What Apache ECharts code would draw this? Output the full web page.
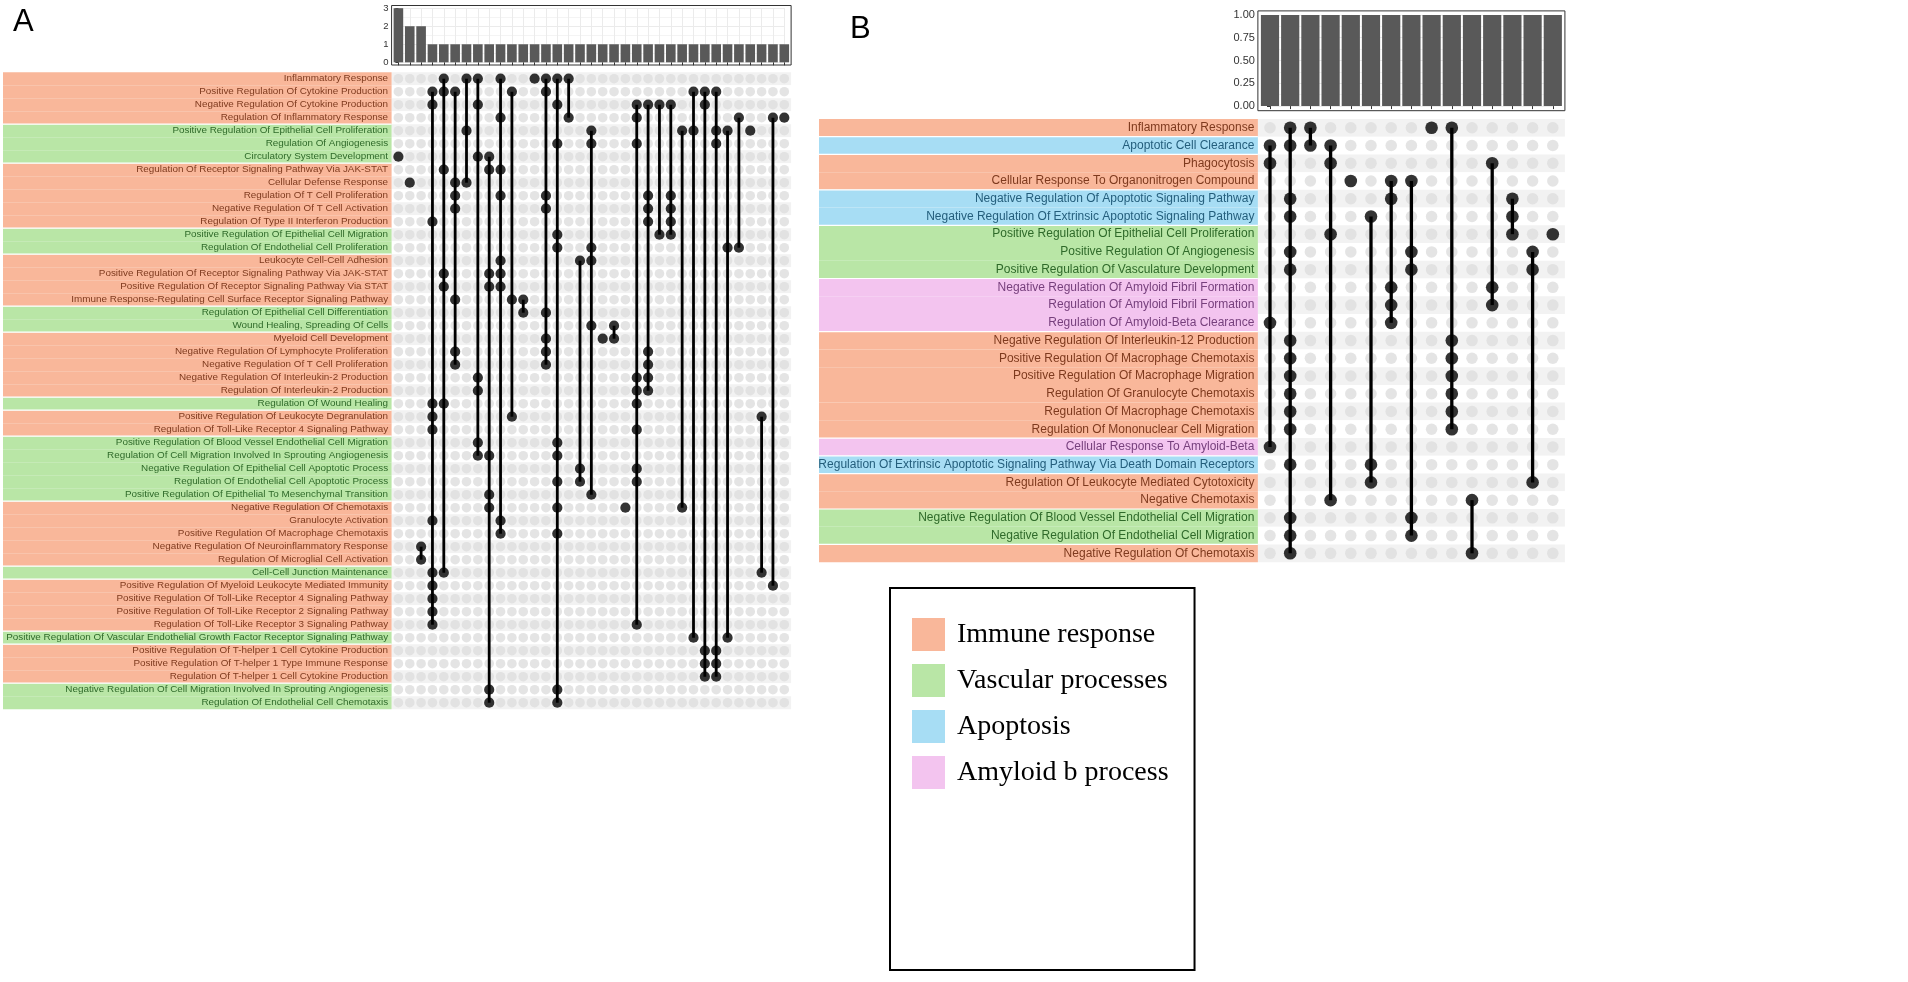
<!DOCTYPE html>
<html><head><meta charset="utf-8">
<script src="https://cdn.jsdelivr.net/npm/echarts@6/dist/echarts.min.js"></script>
<style>html,body{margin:0;padding:0;background:#fff}#c{width:1908px;height:982px}</style>
</head><body><div id="c"></div>
<script>
// ---------------- DATA ----------------
const groupKeys = ['I', 'V', 'A', 'M'];
const groupNames = ['Immune response', 'Vascular processes', 'Apoptosis', 'Amyloid b process'];

const setsA = [
 'Inflammatory Response','Positive Regulation Of Cytokine Production','Negative Regulation Of Cytokine Production',
 'Regulation Of Inflammatory Response','Positive Regulation Of Epithelial Cell Proliferation','Regulation Of Angiogenesis',
 'Circulatory System Development','Regulation Of Receptor Signaling Pathway Via JAK-STAT','Cellular Defense Response',
 'Regulation Of T Cell Proliferation','Negative Regulation Of T Cell Activation','Regulation Of Type II Interferon Production',
 'Positive Regulation Of Epithelial Cell Migration','Regulation Of Endothelial Cell Proliferation','Leukocyte Cell-Cell Adhesion',
 'Positive Regulation Of Receptor Signaling Pathway Via JAK-STAT','Positive Regulation Of Receptor Signaling Pathway Via STAT',
 'Immune Response-Regulating Cell Surface Receptor Signaling Pathway','Regulation Of Epithelial Cell Differentiation',
 'Wound Healing, Spreading Of Cells','Myeloid Cell Development','Negative Regulation Of Lymphocyte Proliferation',
 'Negative Regulation Of T Cell Proliferation','Negative Regulation Of Interleukin-2 Production','Regulation Of Interleukin-2 Production',
 'Regulation Of Wound Healing','Positive Regulation Of Leukocyte Degranulation','Regulation Of Toll-Like Receptor 4 Signaling Pathway',
 'Positive Regulation Of Blood Vessel Endothelial Cell Migration','Regulation Of Cell Migration Involved In Sprouting Angiogenesis',
 'Negative Regulation Of Epithelial Cell Apoptotic Process','Regulation Of Endothelial Cell Apoptotic Process',
 'Positive Regulation Of Epithelial To Mesenchymal Transition','Negative Regulation Of Chemotaxis','Granulocyte Activation',
 'Positive Regulation Of Macrophage Chemotaxis','Negative Regulation Of Neuroinflammatory Response','Regulation Of Microglial Cell Activation',
 'Cell-Cell Junction Maintenance','Positive Regulation Of Myeloid Leukocyte Mediated Immunity',
 'Positive Regulation Of Toll-Like Receptor 4 Signaling Pathway','Positive Regulation Of Toll-Like Receptor 2 Signaling Pathway',
 'Regulation Of Toll-Like Receptor 3 Signaling Pathway','Positive Regulation Of Vascular Endothelial Growth Factor Receptor Signaling Pathway',
 'Positive Regulation Of T-helper 1 Cell Cytokine Production','Positive Regulation Of T-helper 1 Type Immune Response',
 'Regulation Of T-helper 1 Cell Cytokine Production','Negative Regulation Of Cell Migration Involved In Sprouting Angiogenesis',
 'Regulation Of Endothelial Cell Chemotaxis'
];
const groupsA = ['I','I','I','I','V','V','V','I','I','I','I','I','V','V','I','I','I','I','V','V','I','I','I','I','I','V','I','I','V','V',
 'V','V','V','I','I','I','I','I','V','I','I','I','I','V','I','I','I','V','V'];
// each intersection = list of row indices (sets) it contains
const intersectionsA = [
 [6],[8],[36,37],[1,2,11,25,26,27,34,38,39,40,41,42],[0,1,7,15,16,25,38],[1,8,9,10,17,21,22],[0,4,8],[0,2,6,23,24,28,29],
 [6,7,15,16,29,32,33,47,48],[0,3,7,9,14,15,16,34,35],[1,17,26],[17,18],[0],[0,1,9,10,18,20,21,22],
 [0,2,5,12,13,28,29,31,33,35,47,48],[0,3],[14,30,31],[4,5,13,14,19,32],[20],[19,20],[33],
 [2,3,5,23,24,25,27,30,31,42],[2,9,10,11,21,22,23,24],
 [2,12],[2,9,10,11,12],[4,33],[1,4,43],[1,2,44,45,46],[1,4,5,44,45,46],[4,13,43],[3,13],[4],[26,38],[3,39],[3]
];
const sizesA = [3,2,2,1,1,1,1,1,1,1,1,1,1,1,1,1,1,1,1,1,1,1,1,1,1,1,1,1,1,1,1,1,1,1,1];
const yTicksA = [0, 1, 2, 3];

const setsB = [
 'Inflammatory Response','Apoptotic Cell Clearance','Phagocytosis','Cellular Response To Organonitrogen Compound',
 'Negative Regulation Of Apoptotic Signaling Pathway','Negative Regulation Of Extrinsic Apoptotic Signaling Pathway',
 'Positive Regulation Of Epithelial Cell Proliferation','Positive Regulation Of Angiogenesis','Positive Regulation Of Vasculature Development',
 'Negative Regulation Of Amyloid Fibril Formation','Regulation Of Amyloid Fibril Formation','Regulation Of Amyloid-Beta Clearance',
 'Negative Regulation Of Interleukin-12 Production','Positive Regulation Of Macrophage Chemotaxis','Positive Regulation Of Macrophage Migration',
 'Regulation Of Granulocyte Chemotaxis','Regulation Of Macrophage Chemotaxis','Regulation Of Mononuclear Cell Migration',
 'Cellular Response To Amyloid-Beta','Regulation Of Extrinsic Apoptotic Signaling Pathway Via Death Domain Receptors',
 'Regulation Of Leukocyte Mediated Cytotoxicity','Negative Chemotaxis','Negative Regulation Of Blood Vessel Endothelial Cell Migration',
 'Negative Regulation Of Endothelial Cell Migration','Negative Regulation Of Chemotaxis'
];
const groupsB = ['I','A','I','I','A','A','V','V','V','M','M','M','I','I','I','I','I','I','M','A','I','I','V','V','I'];
const intersectionsB = [
 [1,2,11,18],[0,1,4,5,7,8,12,13,14,15,16,17,19,22,23,24],[0,1],[1,2,6,21],[3],[5,19,20],[3,4,9,10,11],[3,7,8,22,23],
 [0],[0,12,13,14,15,16,17],[21,24],[2,9,10],[4,5,6],[7,8,20],[6]
];
const sizesB = [1,1,1,1,1,1,1,1,1,1,1,1,1,1,1];
const yTicksB = [0, 0.25, 0.5, 0.75, 1];

// ---------------- STYLE ----------------
const FONT = '"Liberation Sans", Arial, sans-serif';
const BG = {I:'#F9B79A', V:'#B9E6A6', A:'#A7DDF4', M:'#F3C4EF'};
const TXT = {I:'#7E3A1E', V:'#2F6A2A', A:'#245E7C', M:'#77407D'};

const grid = [], xAxis = [], yAxis = [], series = [];
const addG = g => (grid.push(g), grid.length - 1);
const addX = a => (xAxis.push(a), xAxis.length - 1);
const addY = a => (yAxis.push(a), yAxis.length - 1);

function buildPanel(P) {
  const n = P.inter.length, m = P.sets.length;
  const xL = P.x0 - 0.6 * P.dx, xR = P.x0 + (n - 1 + 0.6) * P.dx;
  const yMaxT = P.ticks[P.ticks.length - 1];
  const gF = addG({left: xL, top: P.fTop, width: xR - xL, height: P.fBot - P.fTop, show: true,
    borderColor: '#333', borderWidth: 1, backgroundColor: 'transparent', z: 5});
  addX({gridIndex: gF, type: 'value', show: false});
  addY({gridIndex: gF, type: 'value', show: false});
  const gB = addG({left: P.x0, top: P.yTop, width: (n - 1) * P.dx, height: P.yBot - P.yTop});
  const xb = addX({gridIndex: gB, type: 'value', min: 0, max: n - 1, interval: 1, offset: P.fBot - P.yBot,
    axisLine: {show: false}, axisTick: {show: true, length: 3, lineStyle: {color: '#333'}},
    axisLabel: {show: false}, splitLine: {show: true, lineStyle: {color: '#EBEBEB', width: 1}}});
  const yb = addY({gridIndex: gB, type: 'value', min: 0, max: yMaxT, interval: P.ticks[1] - P.ticks[0],
    offset: P.x0 - xL, axisLine: {show: false},
    axisTick: {show: true, length: 3, lineStyle: {color: '#333'}},
    axisLabel: {fontSize: P.tickFont, color: '#333', fontFamily: FONT, margin: 3, formatter: P.fmt},
    splitLine: {show: true, lineStyle: {color: '#EBEBEB'}},
    minorTick: {show: false, splitNumber: 2}, minorSplitLine: {show: true, lineStyle: {color: '#F4F4F4'}}});
  series.push({type: 'bar', xAxisIndex: xb, yAxisIndex: yb, data: P.sizes.map((v, i) => [i, v]),
    barWidth: P.barW, itemStyle: {color: '#595959'}, clip: false, silent: true, z: 3});
  // set labels with coloured backgrounds
  const gL = addG({left: P.labLeft, top: P.y0 - P.dy / 2, width: xL - P.labLeft, height: m * P.dy});
  const xl = addX({gridIndex: gL, type: 'value', min: 0, max: 1, show: false});
  const yl = addY({gridIndex: gL, type: 'category', data: P.sets, inverse: true, position: 'right', z: 10,
    axisLine: {show: false}, axisTick: {show: false}, splitLine: {show: false},
    axisLabel: {inside: true, interval: 0, margin: 3.5, fontSize: P.labFont, fontFamily: FONT,
      color: (v, i) => TXT[P.groups[i]]}});
  groupKeys.forEach((g, k) => {
    series.push({type: 'bar', name: groupNames[k], xAxisIndex: xl, yAxisIndex: yl, barWidth: '100%', barGap: '-100%',
      data: P.groups.map(x => x === g ? 1 : '-'), itemStyle: {color: BG[g]}, silent: true, z: 1});
  });
  const seps = [];
  P.groups.forEach((g, i) => { if (i > 0 && g !== P.groups[i - 1]) seps.push([0, i]); });
  series.push({type: 'custom', xAxisIndex: xl, yAxisIndex: yl, data: seps, clip: false, silent: true, z: 2,
    renderItem: (params, api) => {
      const a = api.coord([0, api.value(1)]), b = api.coord([1, api.value(1)]);
      const h = api.size([0, 1])[1];
      const y = a[1] - h / 2;
      return {type: 'line', shape: {x1: a[0], y1: y, x2: b[0], y2: y}, style: {stroke: '#fff', lineWidth: 1.2}};
    }});
  // matrix
  const gM = addG({left: P.x0, top: P.y0, width: (n - 1) * P.dx, height: (m - 1) * P.dy});
  const xm = addX({gridIndex: gM, type: 'value', min: 0, max: n - 1, show: false});
  const ym = addY({gridIndex: gM, type: 'value', min: 0, max: m - 1, inverse: true, show: false});
  series.push({type: 'custom', xAxisIndex: xm, yAxisIndex: ym, clip: false, silent: true, z: 1,
    data: P.sets.map((s, i) => [0, i]),
    renderItem: (params, api) => {
      const r = api.value(1);
      const p1 = api.coord([-0.6, r - 0.5]), p2 = api.coord([n - 0.4, r + 0.5]);
      return {type: 'rect', shape: {x: p1[0], y: Math.min(p1[1], p2[1]), width: p2[0] - p1[0], height: Math.abs(p2[1] - p1[1])},
        style: {fill: r % 2 === 0 ? '#F2F2F2' : '#FFFFFF'}};
    }});
  const grey = [], black = [], segs = [];
  P.inter.forEach((rows, c) => {
    for (let r = 0; r < m; r++) (rows.includes(r) ? black : grey).push([c, r]);
    if (rows.length > 1) segs.push([c, Math.min(...rows), Math.max(...rows)]);
  });
  series.push({type: 'scatter', xAxisIndex: xm, yAxisIndex: ym, data: grey, symbolSize: P.dotG,
    itemStyle: {color: '#DDDDDD'}, silent: true, z: 2, clip: false});
  series.push({type: 'custom', xAxisIndex: xm, yAxisIndex: ym, data: segs, clip: false, silent: true, z: 3,
    renderItem: (params, api) => {
      const a = api.coord([api.value(0), api.value(1)]), b = api.coord([api.value(0), api.value(2)]);
      return {type: 'line', shape: {x1: a[0], y1: a[1], x2: b[0], y2: b[1]}, style: {stroke: '#000', lineWidth: P.lineW}};
    }});
  series.push({type: 'scatter', xAxisIndex: xm, yAxisIndex: ym, data: black, symbolSize: P.dotB,
    itemStyle: {color: '#000'}, silent: true, z: 4, clip: false});
}

buildPanel({sets: setsA, groups: groupsA, inter: intersectionsA, sizes: sizesA, ticks: yTicksA,
  x0: 398.4, dx: 11.35, y0: 78.7, dy: 13.0, fTop: 5.5, fBot: 65.0, yTop: 8.2, yBot: 62.3,
  labLeft: 3, labFont: 9.9, tickFont: 9.5, barW: 9.6, dotG: 9.6, dotB: 10.2, lineW: 2.8,
  fmt: v => String(v)});
buildPanel({sets: setsB, groups: groupsB, inter: intersectionsB, sizes: sizesB, ticks: yTicksB,
  x0: 1270, dx: 20.2, y0: 127.8, dy: 17.73, fTop: 10.9, fBot: 110.7, yTop: 14.9, yBot: 106.1,
  labLeft: 819, labFont: 12.0, tickFont: 11, barW: 18.2, dotG: 11.5, dotB: 12.6, lineW: 3.3,
  fmt: v => v.toFixed(2)});

const option = {
  animation: false,
  title: [
    {text: 'A', left: 8, top: 2, textStyle: {fontFamily: FONT, fontWeight: 'normal', fontSize: 31, color: '#000'}},
    {text: 'B', left: 845, top: 9, textStyle: {fontFamily: FONT, fontWeight: 'normal', fontSize: 31, color: '#000'}}
  ],
  legend: {data: groupNames, orient: 'vertical', left: 890, top: 588, icon: 'rect', itemWidth: 33, itemHeight: 33,
    itemGap: 13, padding: [30, 26, 181, 22], borderColor: '#000', borderWidth: 2, selectedMode: false,
    textStyle: {fontFamily: '"Liberation Serif", "Times New Roman", serif', fontSize: 28, color: '#000', padding: [0, 0, 0, 7]}},
  grid, xAxis, yAxis, series
};
const chart = echarts.init(document.getElementById('c'));
chart.setOption(option);
</script></body></html>
